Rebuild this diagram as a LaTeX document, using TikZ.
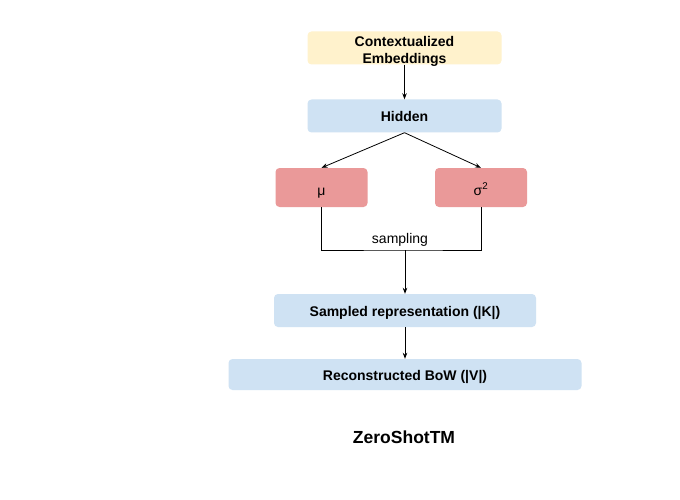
\documentclass[tikz,border=0pt]{standalone}
\usepackage{fontspec}
\setmainfont{Liberation Sans}
\usetikzlibrary{arrows.meta,calc}
\definecolor{yel}{HTML}{FFF2CC}
\definecolor{blu}{HTML}{CFE2F3}
\definecolor{redb}{HTML}{EA9999}
\begin{document}
\begin{tikzpicture}[x=1pt,y=-1pt,
  box/.style={rounded corners=4pt, inner sep=0pt, font=\fontsize{14}{17}\selectfont\bfseries, align=center, text height=12pt, text depth=0pt},
  arr/.style={line width=0.8pt, -{Stealth[length=6pt,width=4.5pt]}},
  ln/.style={line width=0.8pt}]
\useasboundingbox[fill=white] (0,0) rectangle (680,500);
\node[box, fill=yel, minimum width=194pt, minimum height=33pt, text height=31pt] (ctx) at (404.5,48) {Contextualized\\Embeddings};
\node[box, fill=blu, minimum width=194pt, minimum height=33pt] (hid) at (404.5,116) {Hidden};
\node[box, fill=redb, minimum width=92pt, minimum height=39pt, font=\fontsize{14}{17}\selectfont, text height=15pt] (mu) at (321.5,187.5) {μ};
\node[box, fill=redb, minimum width=92pt, minimum height=39pt, font=\fontsize{14}{17}\selectfont, text height=15pt] (sig) at (481,187.5) {σ\textsuperscript{2}};
\node[box, fill=blu, minimum width=262pt, minimum height=33pt] (smp) at (405,310.5) {Sampled representation (|K|)};
\node[box, fill=blu, minimum width=353pt, minimum height=31pt] (rec) at (405,374.5) {Reconstructed BoW (|V|)};
\node[font=\fontsize{17.5}{20}\selectfont\bfseries] (title) at (404,437) {ZeroShotTM};
\coordinate (j) at (405,250);
\node[font=\fontsize{14}{17}\selectfont] (lab) at (400,239.5) {sampling};
\draw[arr] (ctx.south) -- (hid.north);
\draw[arr] (hid.south) -- (mu.north);
\draw[arr] (hid.south) -- (sig.north);
\draw[ln] (mu.south) |- (j) -| (sig.south);
\draw[arr] (j) -- (smp.north);
\draw[arr] (smp.south) -- (rec.north);
\end{tikzpicture}
\end{document}
